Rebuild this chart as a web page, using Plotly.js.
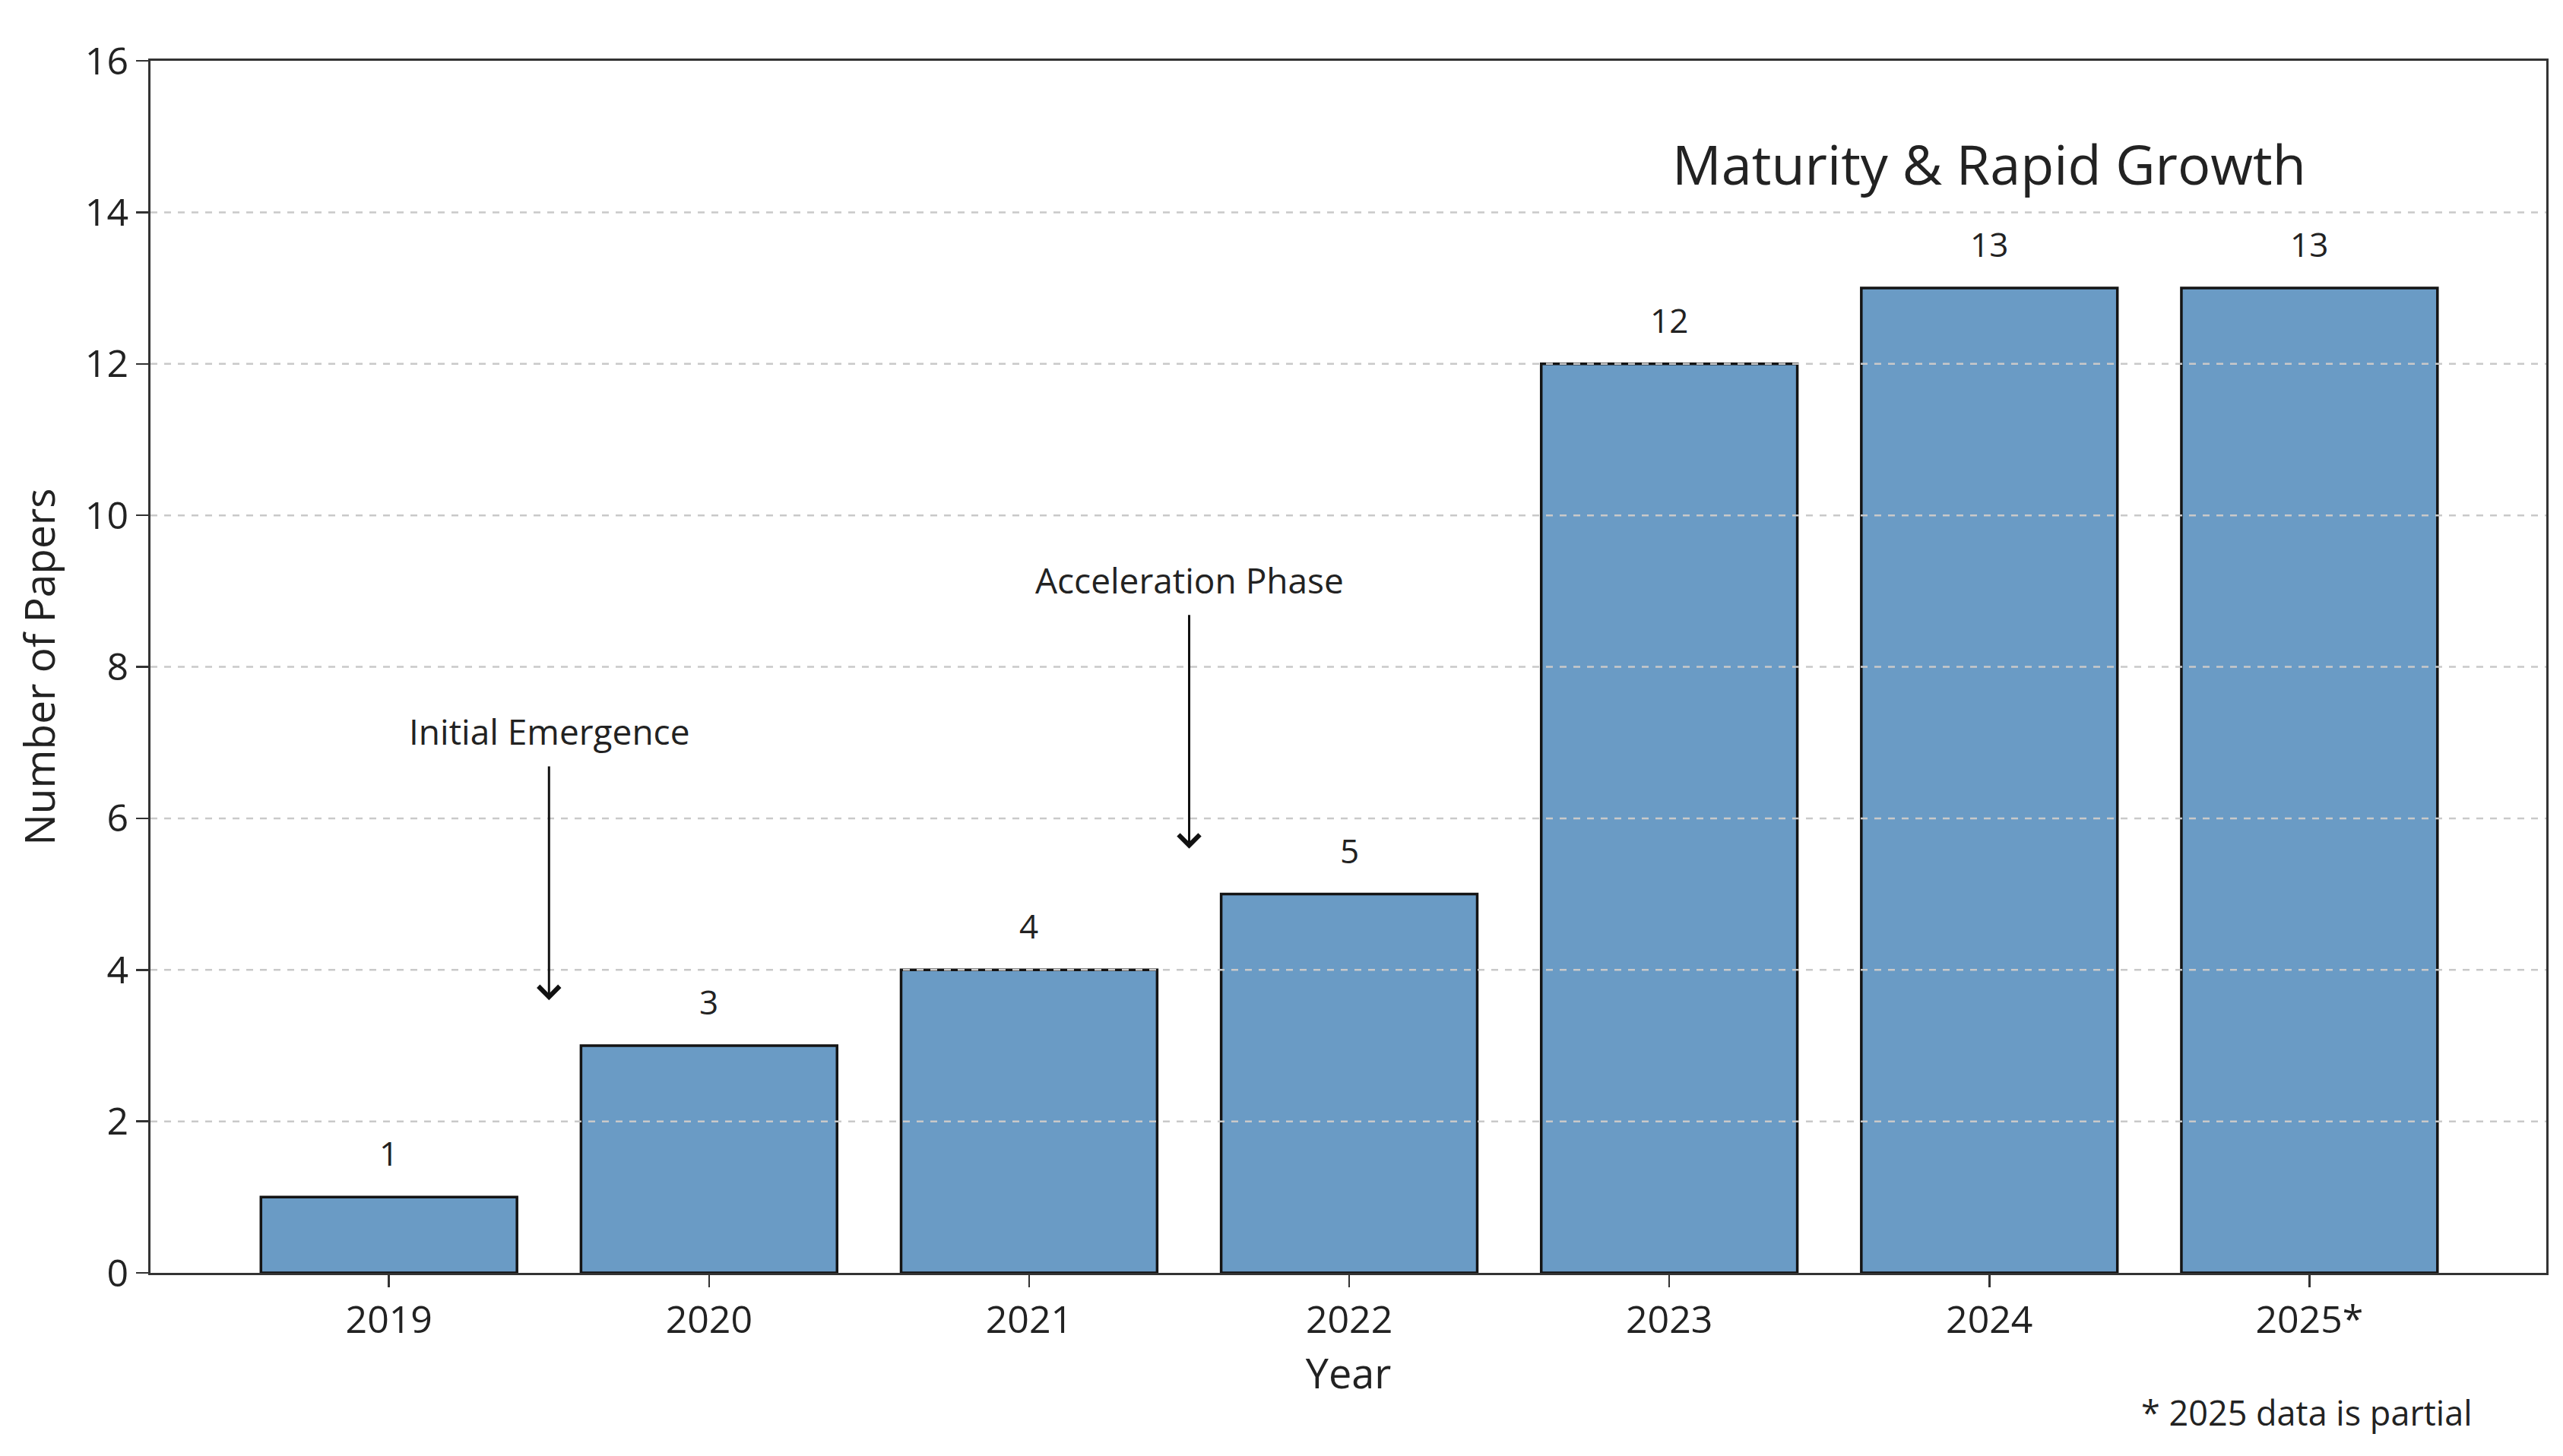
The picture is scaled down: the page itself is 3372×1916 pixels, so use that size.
<!DOCTYPE html>
<html>
<head>
<meta charset="utf-8">
<script src="https://cdn.plot.ly/plotly-3.0.1.min.js"></script>
<style>
  html, body { margin: 0; padding: 0; background: #fff; }
  #plot { width: 3372px; height: 1916px; }
</style>
</head>
<body>
<div id="plot"></div>
<script>
const PLOT_ID = 'plot';
const FONT = '"Open Sans", "DejaVu Sans", sans-serif';

// data
const years = ['2019', '2020', '2021', '2022', '2023', '2024', '2025*'];
const papers = [1, 3, 4, 5, 12, 13, 13];
const yTicks = [0, 2, 4, 6, 8, 10, 12, 14, 16];

// phase notes (x is a category index, y in paper counts)
const phaseLabels = ['Initial Emergence', 'Acceleration Phase', 'Maturity & Rapid Growth'];
const phaseX = [0.5, 2.5, 5];
const phaseTextY = [7.15, 9.15, 14.65];
const arrowFrom = [6.7, 8.7];
const arrowTo = [3.6, 5.6];
const footnote = '* 2025 data is partial';

const barTrace = {
    type: 'bar',
    x: years,
    y: papers,
    width: 0.8,
    marker: { color: '#6a9bc5', line: { color: '#141414', width: 3.5 } },
    hoverinfo: 'none'
};

// value labels over the bars (category index, so "2019" is not read as a number)
const valueNotes = papers.map((v, i) => ({
    x: i, y: v, xref: 'x', yref: 'y',
    text: String(v), showarrow: false,
    yshift: 58, font: { family: FONT, size: 44, color: '#222' }
}));

const phaseNotes = phaseLabels.map((label, i) => ({
    x: phaseX[i], y: phaseTextY[i], xref: 'x', yref: 'y',
    text: label, showarrow: false,
    font: { family: FONT, size: i === 2 ? 72 : 46, color: '#222' }
}));

const arrowNotes = arrowFrom.map((from, i) => ({
    x: phaseX[i], y: arrowTo[i], xref: 'x', yref: 'y',
    ax: phaseX[i], ay: from, axref: 'x', ayref: 'y',
    text: '', showarrow: true,
    arrowhead: 4, arrowsize: 1.8, arrowwidth: 3, arrowcolor: '#111'
}));

const footNote = {
    x: 0.97, y: -0.115, xref: 'paper', yref: 'paper',
    xanchor: 'right', yanchor: 'middle',
    text: footnote, showarrow: false,
    font: { family: FONT, size: 45, color: '#222' }
};

// dashed grid drawn over the bars, as in the source
const gridLines = yTicks.filter(v => v > 0 && v < 16).map(v => ({
    type: 'line', xref: 'paper', x0: 0, x1: 1, yref: 'y', y0: v, y1: v,
    layer: 'above', line: { color: '#c9c9c9', width: 2.5, dash: 'dash' }
}));

const layout = {
    width: 3372,
    height: 1916,
    paper_bgcolor: '#fff',
    plot_bgcolor: '#fff',
    font: { family: FONT, color: '#222' },
    margin: { t: 80, b: 241, l: 198, r: 22 },
    showlegend: false,
    bargap: 0.2,
    xaxis: {
        type: 'category',
        range: [-0.745, 6.74],
        showline: true, linecolor: '#333', linewidth: 3, mirror: true,
        ticks: 'outside', ticklen: 16, tickwidth: 2.5, tickcolor: '#333',
        tickfont: { family: FONT, size: 50, color: '#222' },
        showgrid: false, zeroline: false, fixedrange: true,
        title: { text: 'Year', font: { family: FONT, size: 54, color: '#222' }, standoff: 20 },
        automargin: false
    },
    yaxis: {
        range: [0, 16],
        tickvals: yTicks,
        showline: true, linecolor: '#333', linewidth: 3, mirror: true,
        ticks: 'outside', ticklen: 16, tickwidth: 2.5, tickcolor: '#333',
        tickfont: { family: FONT, size: 50, color: '#222' },
        showgrid: false, zeroline: false, fixedrange: true,
        title: { text: 'Number of Papers', font: { family: FONT, size: 55, color: '#222' }, standoff: 22 },
        automargin: false
    },
    shapes: gridLines,
    annotations: [...valueNotes, ...phaseNotes, ...arrowNotes, footNote],
    hovermode: false,
    dragmode: false
};

Plotly.newPlot(PLOT_ID, [barTrace], layout, { displayModeBar: false, staticPlot: true });
</script>
</body>
</html>
